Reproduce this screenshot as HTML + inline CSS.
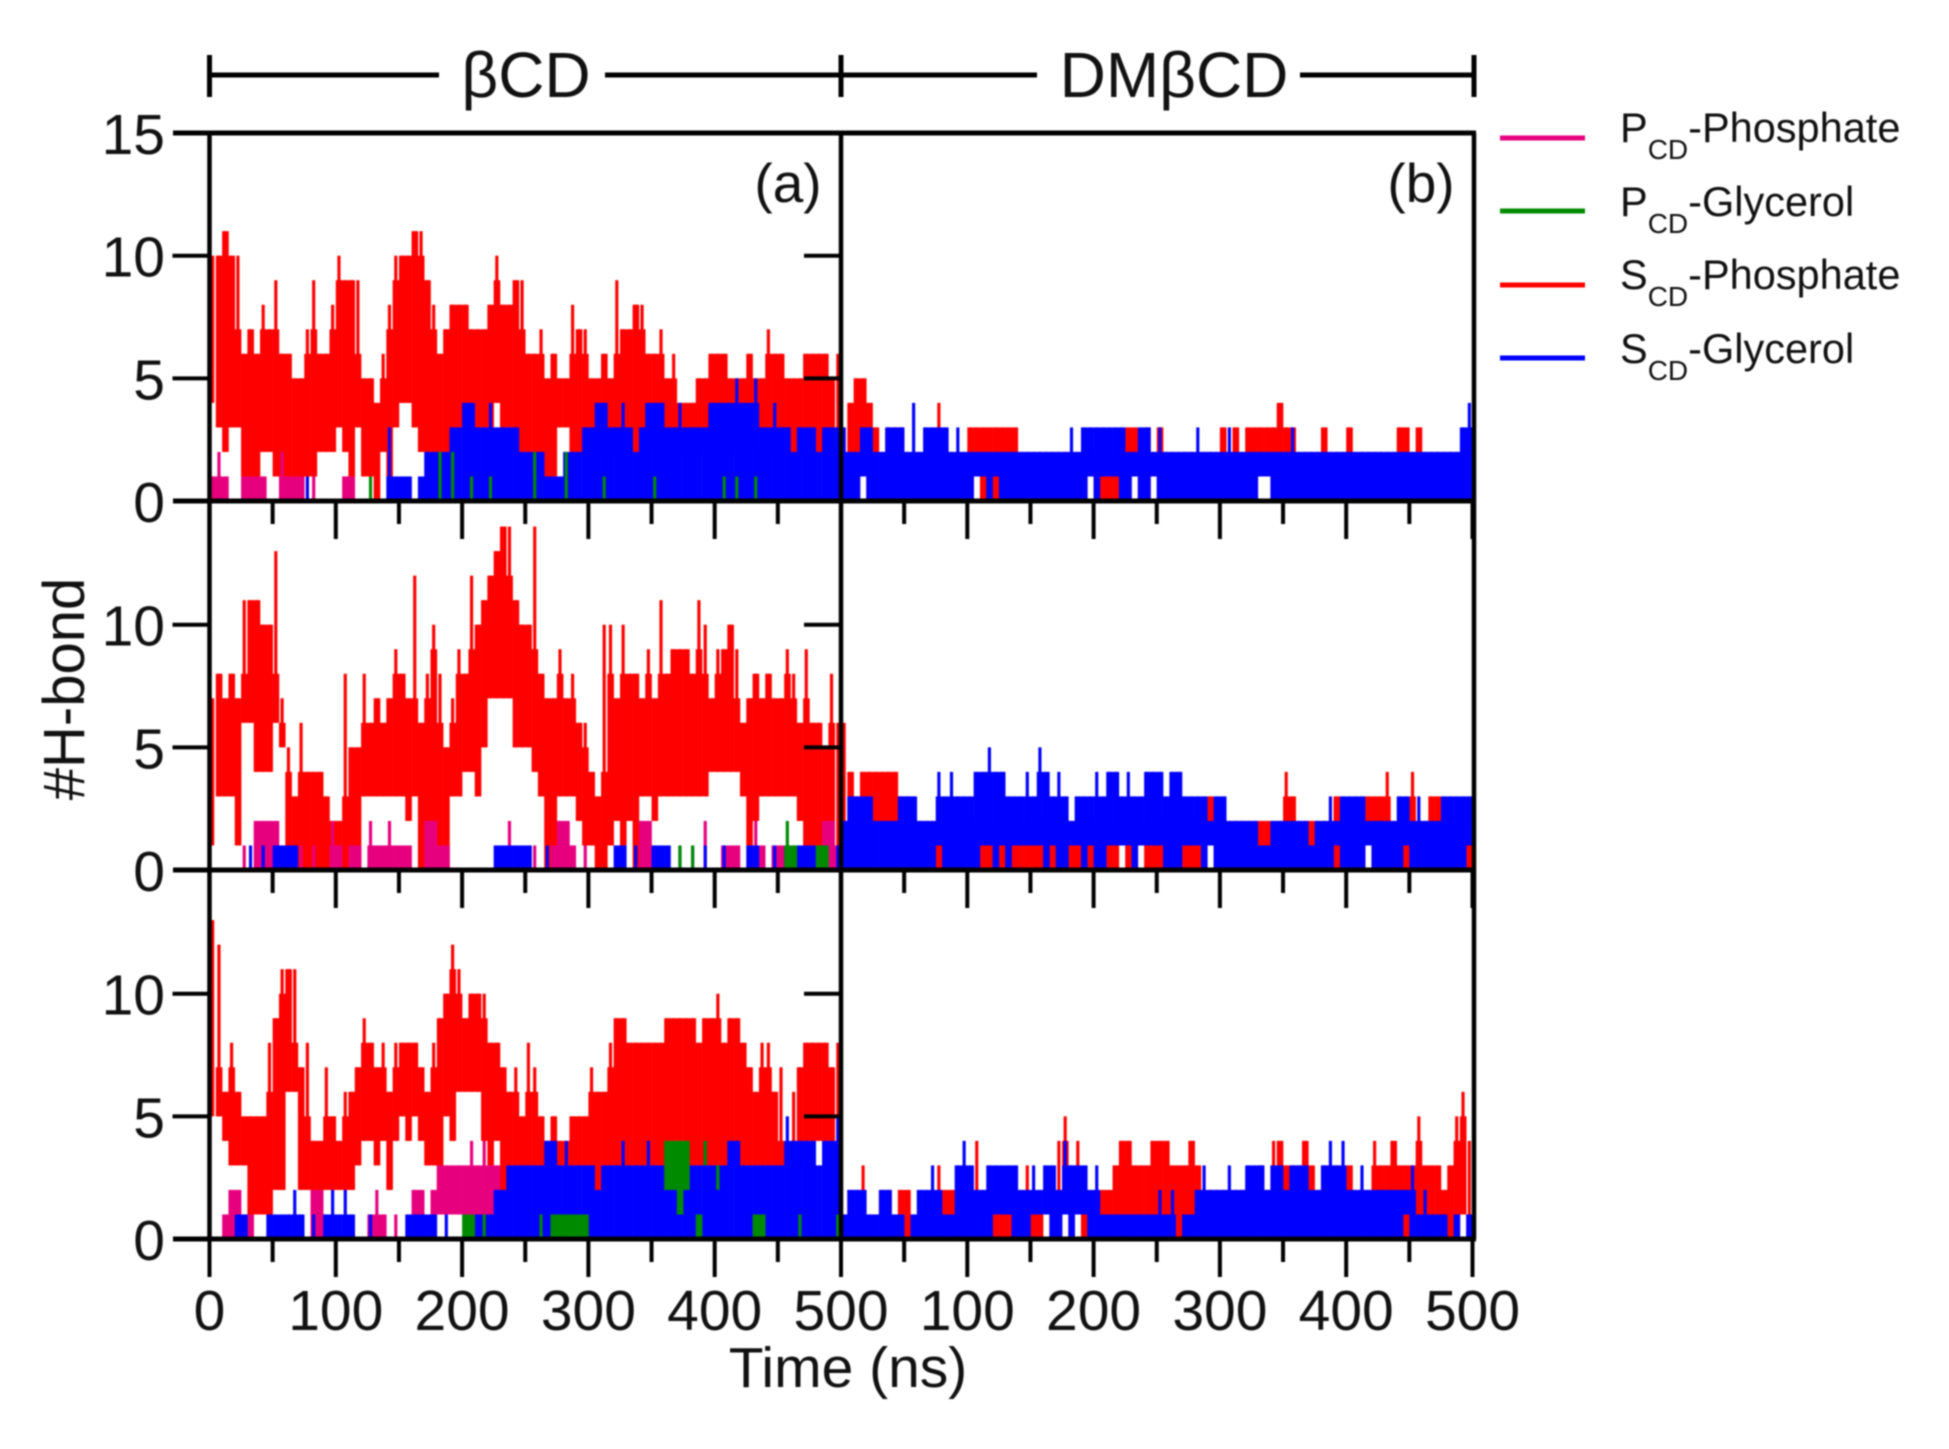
<!DOCTYPE html>
<html lang="en">
<head>
<meta charset="utf-8">
<title>H-bond time series</title>
<style>
html,body{margin:0;padding:0;background:#fff;}
svg{display:block;filter:blur(0.8px);font-family:"Liberation Sans",sans-serif;}
</style>
</head>
<body>
<svg id="chart" xmlns="http://www.w3.org/2000/svg" width="1949" height="1449" viewBox="0 0 1949 1449">
  <rect x="0" y="0" width="1949" height="1449" fill="#fff"/>
  <g id="marks"></g>
  <g id="axes"></g>
  <g id="labels" font-size="57" fill="#111"></g>

  <g stroke="#000" stroke-width="5" fill="none">
    <line x1="209.5" y1="75" x2="439" y2="75"/>
    <line x1="605" y1="75" x2="841" y2="75"/>
    <line x1="841" y1="75" x2="1037" y2="75"/>
    <line x1="1300" y1="75" x2="1474" y2="75"/>
    <line x1="209.5" y1="55" x2="209.5" y2="97"/>
    <line x1="841" y1="55" x2="841" y2="97"/>
    <line x1="1474" y1="55" x2="1474" y2="97"/>
  </g>
  <text x="526" y="97" font-size="64" text-anchor="middle" fill="#111">βCD</text>
  <text x="1174" y="97" font-size="64" text-anchor="middle" fill="#111">DMβCD</text>

  <text x="788" y="202" font-size="55" text-anchor="middle" fill="#111">(a)</text>
  <text x="1421" y="202" font-size="55" text-anchor="middle" fill="#111">(b)</text>

  <text transform="translate(84,689) rotate(-90)" font-size="58" text-anchor="middle" fill="#111">#H-bond</text>
  <text x="848" y="1387" font-size="57" text-anchor="middle" fill="#111">Time (ns)</text>

  <g fill="#111" font-size="41.5">
    <g>
      <line x1="1500" y1="138" x2="1585" y2="138" stroke="#e6007e" stroke-width="5"/>
      <text x="1620" y="142">P<tspan font-size="28" dy="17">CD</tspan><tspan dy="-17">-Phosphate</tspan></text>
    </g>
    <g>
      <line x1="1500" y1="211" x2="1585" y2="211" stroke="#008a00" stroke-width="5"/>
      <text x="1620" y="216">P<tspan font-size="28" dy="17">CD</tspan><tspan dy="-17">-Glycerol</tspan></text>
    </g>
    <g>
      <line x1="1500" y1="285" x2="1585" y2="285" stroke="#ff0000" stroke-width="5"/>
      <text x="1620" y="289">S<tspan font-size="28" dy="17">CD</tspan><tspan dy="-17">-Phosphate</tspan></text>
    </g>
    <g>
      <line x1="1500" y1="358" x2="1585" y2="358" stroke="#0000ff" stroke-width="5"/>
      <text x="1620" y="363">S<tspan font-size="28" dy="17">CD</tspan><tspan dy="-17">-Glycerol</tspan></text>
    </g>
  </g>
</svg>
<script>
// ---- tick values and labels ----
const xMajorTicks = [0,100,200,300,400,500];
const xMinorTicks = [50,150,250,350,450];
const yInnerTicks = [5,10];
const xTickLabels = ["0","100","200","300","400","500"];
const xTickLabelsRight = ["100","200","300","400","500"];
const yTickLabelsTop = [15,10,5,0];
const yTickLabelsLower = [10,5,0];
const binNs = 5;
const noHits = [];

// ---- panel a, row 1 ----
const a1RedHi = [10,10,11,10,10,6,7,6,8,7, 9,6,6,5,5,7,9,6,6,8, 10,9,9,9,5,5,4,6,8,10, 10,10,11,11,9,8,6,7,8,8, 8,7,7,7,8,10,8,8,9,9, 6,6,7,5,6,5,5,8,7,7, 5,5,6,5,9,7,7,8,8,6, 6,7,5,6,4,4,4,5,5,6, 6,6,5,5,5,6,5,5,7,6, 6,5,5,5,6,6,6,6,5,6];
const a1RedLo = [4,3,2,3,3,1,1,1,2,2, 1,1,1,1,0,1,1,2,2,2, 3,2,1,3,1,1,0,2,1,3, 4,4,3,2,2,2,2,2,2,3, 3,3,3,3,3,4,3,3,2,2, 2,1,1,1,1,3,3,2,2,2, 2,2,2,2,2,2,2,2,2,2, 2,2,2,2,2,2,2,2,2,2, 2,2,2,2,2,2,2,2,2,2, 2,2,2,2,2,2,2,2,2,2];
const a1BlueHi = [0,0,0,0,0,0,0,0,0,0, 0,0,0,0,0,1,0,0,0,0, 0,0,0,0,0,0,0,0,3,1, 1,1,0,1,2,2,2,2,3,3, 4,4,3,3,4,3,3,3,3,2, 2,2,2,1,1,1,2,2,2,3, 3,4,4,3,3,4,3,2,3,4, 4,4,3,3,4,3,3,3,3,4, 4,4,4,5,4,4,5,3,3,4, 3,3,2,3,3,3,2,3,3,3];
const a1MagentaHi = [1,2,1,0,0,1,1,1,1,0, 0,2,1,1,1,0,1,0,0,0, 0,1,1,0,0,0,0,0,0,0];
const a1GreenHi = [0,0,0,0,0,0,0,0,0,0, 0,0,0,0,0,0,0,0,0,0, 0,0,0,0,0,1,0,0,0,0, 0,0,0,0,0,0,2,0,2,0, 0,1,0,0,1,0,0,0,0,0, 0,2,0,0,0,0,2,0,0,0, 0,0,1,0,0,0,0,0,0,0, 1,0,0,0,0,0,0,0,0,0, 0,1,0,1,0,0,1,0,0,0, 0,0,0,0,0,0,0,0,0,0];

// ---- panel a, row 2 ----
const a2RedHi = [7,8,7,8,7,11,11,11,10,10, 13,7,5,3,6,4,4,4,3,2, 2,8,5,5,8,6,7,6,7,9, 8,7,12,6,8,10,8,5,7,9, 8,12,10,11,12,13,14,14,11,10, 10,14,8,7,7,9,7,8,6,6, 4,3,10,10,7,10,8,8,7,9, 7,11,8,9,9,9,8,11,10,7, 9,9,10,9,6,7,8,7,8,7, 7,9,8,6,9,6,6,5,8,6];
const a2RedLo = [1,3,3,3,1,6,6,4,4,4, 6,5,1,0,0,0,0,0,0,0, 0,0,0,0,3,3,3,3,3,3, 3,2,3,0,0,1,1,0,3,3, 4,4,3,5,7,7,7,7,5,5, 5,4,3,0,1,3,3,3,2,1, 1,0,0,1,2,1,2,0,3,3, 2,3,3,3,3,3,3,3,3,4, 4,4,4,4,3,1,2,3,3,3, 3,3,3,2,0,1,1,1,1,0];
const a2BlueHi = [0,0,0,0,0,0,1,0,1,0, 1,1,1,1,0,0,0,0,0,0, 0,0,0,0,0,0,0,0,0,0, 0,0,0,0,0,0,0,0,0,0, 0,0,0,0,0,1,1,1,1,1, 1,0,0,1,0,0,0,0,0,0, 0,0,0,0,1,1,0,1,0,0, 1,1,1,0,1,0,1,0,1,0, 0,1,0,0,0,1,1,0,0,1, 0,1,1,1,1,1,0,0,0,1];
const a2MagentaHi = [0,0,0,0,0,1,0,2,2,2, 2,1,0,0,1,0,1,0,0,2, 1,0,1,1,0,2,1,1,2,1, 1,1,0,0,2,2,1,1,0,0, 0,0,0,0,0,0,0,2,0,0, 0,1,0,0,1,2,2,1,0,1, 0,0,0,0,0,1,0,0,2,2, 0,0,0,0,0,0,0,0,2,0, 0,1,1,1,0,0,2,1,0,1, 1,0,1,0,0,0,0,2,2,1];
const a2GreenHi = [0,0,0,0,0,0,0,0,0,0, 0,0,0,0,0,0,0,0,0,0, 0,0,0,0,0,0,0,0,0,0, 0,0,0,0,0,0,0,0,0,0, 0,0,0,0,0,0,0,0,0,0, 0,0,0,0,0,0,0,0,0,0, 0,0,0,0,0,0,0,0,0,0, 0,0,0,0,1,0,1,0,0,0, 0,0,0,0,0,0,0,0,0,0, 0,2,1,0,0,0,1,1,0,0];

// ---- panel a, row 3 ----
const a3RedHi = [13,12,6,8,6,5,5,5,5,8, 9,11,11,11,7,8,4,4,7,5, 4,6,6,7,9,8,7,8,6,8, 8,8,8,7,6,8,9,10,12,11, 9,10,10,10,8,8,7,6,7,5, 8,7,5,4,5,4,4,5,5,5, 7,6,6,8,9,9,8,8,8,8, 8,8,9,9,9,9,9,8,9,9, 10,8,9,9,8,7,6,8,8,6, 7,3,6,7,8,8,8,8,7,8];
const a3RedLo = [5,5,4,3,3,3,1,1,1,1, 2,2,6,6,2,2,2,1,2,2, 2,2,2,3,4,4,3,4,2,4, 5,4,5,4,3,3,2,5,4,6, 6,6,6,4,3,4,2,3,3,3, 3,3,3,3,3,3,3,3,3,3, 2,2,3,3,3,3,3,3,3,3, 3,3,3,4,4,3,3,3,3,3, 3,3,3,3,3,3,3,3,3,3, 3,3,3,3,4,4,4,4,4,4];
const a3BlueHi = [0,0,0,0,1,1,0,0,0,1, 1,1,1,2,1,0,1,0,1,2, 1,2,1,0,0,1,0,0,0,0, 0,1,1,1,1,1,0,1,0,0, 0,0,1,1,1,2,2,3,3,3, 3,3,3,4,4,3,4,3,3,3, 3,2,3,3,3,4,3,3,3,4, 3,3,3,3,3,3,3,3,4,3, 3,3,4,4,3,3,3,3,3,3, 3,5,4,4,4,4,3,4,4,5];
const a3MagentaHi = [0,0,1,2,2,1,1,0,0,0, 0,0,1,0,0,0,2,2,1,0, 0,0,0,0,0,1,2,1,0,1, 0,0,2,2,0,2,3,3,3,3, 3,4,3,4,3,3];
const a3MagentaLo = [0,0,0,0,0,0,0,0,0,0, 0,0,0,0,0,0,0,0,0,0, 0,0,0,0,0,0,0,0,0,0, 0,0,0,0,0,1,1,1,1,1, 1,1,1,1,1,1];
const a3GreenHi = [0,0,0,0,0,0,0,0,0,0, 0,0,0,0,0,0,0,0,0,0, 0,0,0,0,0,0,0,0,0,0, 0,0,0,0,0,0,0,0,0,0, 1,1,0,1,0,0,0,0,0,0, 0,0,1,0,1,1,1,1,1,1, 0,0,0,0,0,0,0,0,0,0, 0,0,4,4,4,4,0,1,4,0, 3,0,0,0,0,0,1,1,0,0, 0,0,0,1,0,0,0,0,0,1];
const a3GreenLo = [0,0,0,0,0,0,0,0,0,0, 0,0,0,0,0,0,0,0,0,0, 0,0,0,0,0,0,0,0,0,0, 0,0,0,0,0,0,0,0,0,0, 0,0,0,0,0,0,0,0,0,0, 0,0,0,0,0,0,0,0,0,0, 0,0,0,0,0,0,0,0,0,0, 0,0,2,2,1,2,0,0,3,0, 2,0,0,0,0,0,0,0,0,0];

// ---- panel b, row 1 ----
const b1RedHi = [3,4,5,5,4,3,2,3,3,3, 2,2,2,2,2,4,2,2,2,2, 3,3,3,3,3,3,3,3,2,2, 2,2,2,2,2,2,2,2,2,2, 2,2,2,2,2,3,3,2,3,2, 3,2,2,2,2,2,2,2,2,2, 3,2,3,2,3,3,3,3,3,4, 3,3,2,2,2,2,3,2,2,2, 3,2,2,2,2,2,2,2,3,3, 2,3,2,2,2,2,2,2,2,2];
const b1RedLo = [0,0,0,1,0,0,0,0,0,0, 0,0,0,0,0,0,0,0,0,0, 0,1,0,0,0,0,0,0,0,0, 0,0,0,0,0,0,0,0,0,1, 0,0,0,0,0,0,1,0,0,1, 0,0,0,0,0,0,0,0,0,0, 0,0,0,0,0,0,1,1,0,0];
const b1BlueHi = [3,2,2,3,3,2,2,3,3,3, 2,4,2,3,3,3,3,2,3,2, 2,2,2,2,2,2,2,2,2,2, 2,2,2,2,2,2,3,2,3,3, 3,3,3,3,3,2,2,3,3,2, 3,2,2,2,2,2,3,2,2,2, 2,3,2,2,2,2,2,2,2,2, 2,3,2,2,2,2,2,2,2,2, 2,2,2,2,2,2,2,2,2,2, 2,2,2,2,2,2,2,2,3,4];
const b1BlueLo = [0,0,0,1,0,0,0,0,0,0, 0,0,0,0,0,0,0,0,0,0, 0,1,1,0,1,0,0,0,0,0, 0,0,0,0,0,0,0,0,0,1, 0,1,1,1,0,0,1,0,0,1, 0,0,0,0,0,0,0,0,0,0, 0,0,0,0,0,0,1,1,0,0];

// ---- panel b, row 2 ----
const b2RedHi = [6,4,3,4,4,4,4,4,4,3, 3,2,2,2,2,2,2,2,2,2, 2,2,2,2,2,2,2,2,2,2, 2,2,2,2,2,2,2,2,2,2, 2,2,2,2,2,2,2,2,2,2, 2,2,2,2,2,2,2,2,3,2, 2,2,2,2,2,2,2,2,2,2, 4,3,2,2,2,2,2,2,3,2, 2,2,2,3,3,3,4,2,2,2, 4,2,2,3,3,2,2,2,2,2];
const b2RedLo = [0,0,0,0,0,0,0,0,0,0, 0,0,0,0,0,0,0,0,0,0, 0,0,0,0,0,0,0,0,0,0, 0,0,0,0,0,0,0,0,0,0, 0,0,0,0,1,0,0,1,0,0, 0,0,0,0,0,0,0,0,1,0, 0,0,0,0,0,0,0,0,0,0, 0,0,0,0,0,0,0,0,0,0, 0,0,0,1,0,0,0,0,0,0];
const b2BlueHi = [2,3,3,3,3,2,2,2,2,3, 3,3,2,2,2,4,3,4,3,3, 3,4,4,5,4,4,3,3,3,4, 3,5,4,3,4,3,2,3,3,3, 4,3,4,4,3,4,3,3,4,4, 4,3,4,4,3,3,3,3,2,3, 3,2,2,2,2,2,1,1,2,2, 2,2,2,2,1,2,2,3,2,3, 3,3,3,2,2,2,2,2,3,3, 2,3,2,2,2,3,3,3,3,3];
const b2BlueLo = [0,0,0,0,0,0,0,0,0,0, 0,0,0,0,0,1,0,0,0,0, 0,0,1,1,0,1,0,1,1,1, 1,1,0,1,0,0,1,1,0,1, 0,0,1,1,1,1,0,1,1,1, 1,0,0,0,1,1,1,0,1,0, 0,0,0,0,0,0,0,0,0,0, 0,0,0,0,0,0,0,0,1,0, 0,0,0,1,0,0,0,0,0,1, 0,0,0,0,0,0,0,0,0,1];

// ---- panel b, row 3 ----
const b3RedHi = [1,2,2,3,1,1,2,2,1,2, 2,1,1,1,1,3,2,2,1,1, 1,4,2,2,2,2,1,1,1,3, 1,1,1,1,4,5,3,4,2,1, 2,2,2,3,4,4,3,3,3,4, 4,4,3,3,3,4,3,2,2,2, 2,2,2,2,2,2,3,2,4,4, 3,3,3,4,3,2,3,3,3,2, 3,2,2,2,4,3,3,4,3,3, 3,5,3,3,3,2,3,5,6,4];
const b3RedLo = [0,0,0,0,0,0,0,0,0,0, 0,0,0,0,0,0,0,0,0,0, 0,0,0,0,0,0,0,0,0,0, 0,0,1,0,0,1,0,1,0,0, 0,0,0,0,0,0,0,0,0,0, 0,0,0,0,0,0,0,0,0,0, 0,0,0,0,0,0,0,0,0,0, 0,0,0,0,0,0,0,0,0,0, 0,0,0,0,0,0,0,0,0,0, 0,0,0,0,0,0,0,0,1,0];
const b3BlueHi = [1,2,2,2,1,1,2,2,1,1, 1,1,2,2,3,2,1,1,3,4, 3,2,2,3,3,3,3,3,2,2, 3,2,3,3,2,4,3,3,3,2, 3,1,1,1,1,1,1,1,1,1, 2,1,2,1,1,1,2,3,2,2, 2,3,2,2,3,3,3,2,3,3, 2,3,3,3,2,2,3,4,3,4, 2,2,3,2,2,2,2,2,2,2, 3,1,2,1,1,1,1,1,1,1];
const b3BlueLo = [0,0,0,0,0,0,0,0,0,0, 1,0,0,0,0,0,0,0,0,0, 0,0,0,0,1,1,1,0,0,0, 1,1,1,0,0,1,0,1,1,0, 0,0,0,0,0,0,0,0,0,0, 0,0,0,1,0,0,0,0,0,0, 0,0,0,0,0,0,0,0,0,0, 0,0,0,0,0,0,0,0,0,0, 0,0,0,0,0,0,0,0,0,1, 0,0,0,0,0,0,1,0,1,0];

// ---- axis functions ----
const NS = "http://www.w3.org/2000/svg";
const colX = [209.5, 841];
const rowBase = [501, 870, 1239];
const rightEdge = 1474;
const nsWidth = 631.5 / 500;
const unitHeight = 24.53;
function xAxis(col, ns){ return colX[col] + ns * nsWidth; }
function yAxis(row, v){ return rowBase[row] - v * unitHeight; }

const marksLayer = document.getElementById("marks");
const axesLayer = document.getElementById("axes");
const labelsLayer = document.getElementById("labels");

function addBar(parent, x, y, w, h, fill){
  const el = document.createElementNS(NS, "rect");
  
  
  el.setAttribute("x", x.toFixed(2));
  el.setAttribute("y", y.toFixed(2));
  el.setAttribute("width", w.toFixed(2));
  el.setAttribute("height", h.toFixed(2));
  el.setAttribute("fill", fill);
  parent.appendChild(el);
}

function drawSeries(col, row, hi, lo, fill, spiky){
  const g = document.createElementNS(NS, "g");
  
  
  marksLayer.appendChild(g);
  const binPx = binNs * nsWidth;
  for (let i = 0; i < hi.length; i++){
    const top = hi[i] || 0;
    const bottom = (lo && lo[i]) || 0;
    if (top <= bottom) continue;
    const x = xAxis(col, i * binNs);
    const prev = hi[i-1] || 0;
    const next = hi[i+1] || 0;
    // narrow spike reaching the series value
    const spikeW = binPx * 0.5;
    addBar(g, x + (binPx - spikeW) / 2, yAxis(row, top), spikeW, (top - bottom) * unitHeight, fill);
    // solid body: one step above the lower neighbour for jagged traces, else up to the taller neighbour
    const shoulder = spiky ? Math.min(top, Math.min(prev, next) + 1) : Math.min(top, Math.max(prev, next));
    if (shoulder > bottom){
      addBar(g, x, yAxis(row, shoulder), binPx + 0.3, (shoulder - bottom) * unitHeight, fill);
    }
  }
}

const RED = "#ff0000", BLUE = "#0000ff", MAGENTA = "#e6007e", GREEN = "#008a00";

function drawPanel(col, row, redHi, redLo, magHi, magLo, blueHi, blueLo, greenHi, greenLo){
  drawSeries(col, row, redHi, redLo, RED, true);
  drawSeries(col, row, magHi, magLo, MAGENTA, false);
  drawSeries(col, row, blueHi, blueLo, BLUE, false);
  drawSeries(col, row, greenHi, greenLo, GREEN, false);
}

drawPanel(0, 0, a1RedHi, a1RedLo, a1MagentaHi, noHits, a1BlueHi, noHits, a1GreenHi, noHits);
drawPanel(0, 1, a2RedHi, a2RedLo, a2MagentaHi, noHits, a2BlueHi, noHits, a2GreenHi, noHits);
drawPanel(0, 2, a3RedHi, a3RedLo, a3MagentaHi, a3MagentaLo, a3BlueHi, noHits, a3GreenHi, a3GreenLo);
drawPanel(1, 0, b1RedHi, b1RedLo, noHits, noHits, b1BlueHi, b1BlueLo, noHits, noHits);
drawPanel(1, 1, b2RedHi, b2RedLo, noHits, noHits, b2BlueHi, b2BlueLo, noHits, noHits);
drawPanel(1, 2, b3RedHi, b3RedLo, noHits, noHits, b3BlueHi, b3BlueLo, noHits, noHits);

// ---- frames and ticks ----
function addLine(x1, y1, x2, y2, w){
  const el = document.createElementNS(NS, "line");
  
  
  el.setAttribute("x1", x1);
  el.setAttribute("y1", y1);
  el.setAttribute("x2", x2);
  el.setAttribute("y2", y2);
  el.setAttribute("stroke", "#000");
  el.setAttribute("stroke-width", w);
  axesLayer.appendChild(el);
}

const majorLen = 38, minorLen = 23, yTickLen = 37;
const topY = yAxis(0, 15);

addLine(173, topY, rightEdge + 2, topY, 5);
rowBase.forEach(function(base){ addLine(173, base, rightEdge + 2, base, 5); });
addLine(colX[0], topY, colX[0], rowBase[2], 4.5);
addLine(colX[1], topY, colX[1], rowBase[2], 4.5);
addLine(rightEdge, topY, rightEdge, rowBase[2], 4.5);

rowBase.forEach(function(base, row){
  colX.forEach(function(_, col){
    xMajorTicks.forEach(function(t){ addLine(xAxis(col, t), base, xAxis(col, t), base + majorLen, 4); });
    xMinorTicks.forEach(function(t){ addLine(xAxis(col, t), base, xAxis(col, t), base + minorLen, 4); });
  });
  yInnerTicks.forEach(function(v){
    addLine(colX[0] - yTickLen, yAxis(row, v), colX[0], yAxis(row, v), 4);
    addLine(colX[1] - yTickLen, yAxis(row, v), colX[1], yAxis(row, v), 4);
  });
});

// ---- tick labels ----
function addLabel(x, y, anchor, str){
  const el = document.createElementNS(NS, "text");
  
  
  el.setAttribute("x", x);
  el.setAttribute("y", y);
  el.setAttribute("text-anchor", anchor);
  el.textContent = str;
  labelsLayer.appendChild(el);
}

const xLabelBaseline = 1330, yLabelRight = 165, yLabelShift = 21;
xTickLabels.forEach(function(s){ addLabel(xAxis(0, +s), xLabelBaseline, "middle", s); });
xTickLabelsRight.forEach(function(s){ addLabel(xAxis(1, +s), xLabelBaseline, "middle", s); });
yTickLabelsTop.forEach(function(v){ addLabel(yLabelRight, yAxis(0, v) + yLabelShift, "end", String(v)); });
yTickLabelsLower.forEach(function(v){
  addLabel(yLabelRight, yAxis(1, v) + yLabelShift, "end", String(v));
  addLabel(yLabelRight, yAxis(2, v) + yLabelShift, "end", String(v));
});
</script>
</body>
</html>
